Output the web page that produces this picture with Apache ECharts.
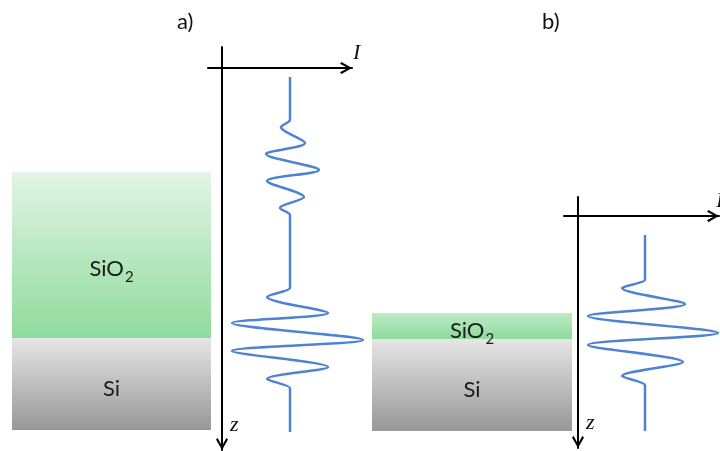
<!DOCTYPE html>
<html>
<head>
<meta charset="utf-8">
<script src="https://cdn.jsdelivr.net/npm/echarts@6/dist/echarts.min.js"></script>
<style>html,body{margin:0;padding:0;background:#fff}#c{width:720px;height:451px}</style>
</head>
<body>
<div id="c"></div>
<script>
// ---- data ----
const panelTitles = ['a)', 'b)'];
const layerNames = ['SiO2', 'Si'];
// depth of top of the film stack (from the I axis) and layer thicknesses
const stackTopA = 104;
const layerThickA = [166, 92];
const stackTopB = 97;
const layerThickB = [26, 92];
// interference signal a): depth z and intensity I
const waveA_z = [9, 50, 52, 59, 75, 86, 102, 113, 129, 140, 147, 149, 218, 220, 229, 245, 255, 272, 283, 299, 311, 320, 322, 364];
const waveA_I = [68, 68, 68, 59, 83, 44, 97, 45, 82, 58, 68, 68, 68, 68, 45, 106, 10, 141, 10, 106, 45, 68, 68, 68];
// interference signal b)
const waveB_z = [19, 62, 64, 72, 88, 100, 117, 129, 146, 160, 169, 171, 215];
const waveB_I = [67, 67, 67, 44, 107, 10, 140, 10, 105, 44, 67, 67, 67];

const zip = (xs, ys) => xs.map((x, i) => [x, ys[i]]);

const chevron = 'path://M50,0 L100,88 L86,100 L50,34 L14,100 L0,88 Z';
const blue = '#4f82d2';

function gradient(top, bottom) {
  return new echarts.graphic.LinearGradient(0, 0, 0, 1, [
    { offset: 0, color: top }, { offset: 1, color: bottom }
  ]);
}

const labelFont = { fontFamily: 'Lato', fontSize: 22, color: '#1c1c1c' };
const labelRich = { s: { fontFamily: 'Lato', fontSize: 15, color: '#1c1c1c', padding: [16, 0, 0, 1] } };
const fmt = p => p.seriesName.indexOf('SiO2') === 0 ? 'SiO{s|2}' : 'Si';

function layerSeries(gi, top, thick, greenTop) {
  const colors = [gradient(greenTop, '#8edb9c'), gradient('#e6e6e6', '#979797')];
  const out = [{
    type: 'bar', xAxisIndex: gi, yAxisIndex: gi, stack: 's' + gi, barWidth: '100%',
    data: [top], itemStyle: { color: 'transparent' }, silent: true
  }];
  thick.forEach((t, i) => {
    out.push({
      name: layerNames[i] + ' ' + gi,
      type: 'bar', xAxisIndex: gi, yAxisIndex: gi, stack: 's' + gi, barWidth: '100%',
      data: [t], itemStyle: { color: colors[i] },
      label: Object.assign({ show: true, position: 'inside', formatter: fmt, rich: labelRich, offset: [0, i === 0 && t > 60 ? 14 : 5] }, labelFont)
    });
  });
  return out;
}

function hiddenAxis(extra) {
  return Object.assign({ show: false }, extra);
}

function signalAxisX(min, max, nameGap) {
  return {
    type: 'value', min: min, max: max, position: 'top',
    name: 'I', nameLocation: 'end', nameGap: nameGap,
    nameTextStyle: { fontFamily: 'Liberation Serif', fontStyle: 'italic', fontSize: 22, color: '#111', verticalAlign: 'bottom', align: 'left', padding: [0, 0, 4, 0] },
    axisLine: { show: true, onZero: true, symbol: ['none', chevron], symbolSize: [14, 12], symbolOffset: [0, -6], lineStyle: { color: '#000', width: 2 } },
    axisTick: { show: false }, axisLabel: { show: false }, splitLine: { show: false }
  };
}
function signalAxisY(min, max) {
  return {
    type: 'value', min: min, max: max, inverse: true,
    name: 'z', nameLocation: 'end', nameGap: -14,
    nameTextStyle: { fontFamily: 'Liberation Serif', fontStyle: 'italic', fontSize: 22, color: '#111', verticalAlign: 'bottom', align: 'left', padding: [0, 0, 0, 8] },
    axisLine: { show: true, onZero: true, symbol: [chevron, 'none'], symbolSize: [14, 12], symbolOffset: [6, 0], lineStyle: { color: '#000', width: 2 } },
    axisTick: { show: false }, axisLabel: { show: false }, splitLine: { show: false }
  };
}

const g = (o) => Object.assign({ outerBoundsMode: 'none', containLabel: false }, o);

const option = {
  animation: false,
  backgroundColor: '#fff',
  title: [
    { text: panelTitles[0], left: 172, top: 6, textStyle: { fontFamily: 'Lato', fontSize: 22, fontWeight: 'normal', color: '#111' } },
    { text: panelTitles[1], left: 537, top: 6, textStyle: { fontFamily: 'Lato', fontSize: 22, fontWeight: 'normal', color: '#111' } }
  ],
  grid: [
    g({ left: 12, width: 199, top: 47, height: 403 }),   // layers a
    g({ left: 208, width: 144, top: 47, height: 403 }),  // axes a
    g({ left: 372, width: 200, top: 197, height: 251 }), // layers b
    g({ left: 564, width: 155, top: 197, height: 251 }), // axes b
    g({ left: 208, width: 170, top: 47, height: 403 }),  // signal a
    g({ left: 564, width: 156, top: 197, height: 251 })  // signal b
  ],
  xAxis: [
    hiddenAxis({ type: 'category', gridIndex: 0, data: ['a'] }),
    Object.assign(signalAxisX(-14, 130, 1), { gridIndex: 1 }),
    hiddenAxis({ type: 'category', gridIndex: 2, data: ['b'] }),
    Object.assign(signalAxisX(-14, 141, -3), { gridIndex: 3 }),
    hiddenAxis({ type: 'value', gridIndex: 4, min: -14, max: 156 }),
    hiddenAxis({ type: 'value', gridIndex: 5, min: -14, max: 142 })
  ],
  yAxis: [
    hiddenAxis({ type: 'value', gridIndex: 0, min: -21, max: 382, inverse: true }),
    Object.assign(signalAxisY(-21, 382), { gridIndex: 1 }),
    hiddenAxis({ type: 'value', gridIndex: 2, min: -19, max: 232, inverse: true }),
    Object.assign(signalAxisY(-19, 232), { gridIndex: 3 }),
    hiddenAxis({ type: 'value', gridIndex: 4, min: -21, max: 382, inverse: true }),
    hiddenAxis({ type: 'value', gridIndex: 5, min: -19, max: 232, inverse: true })
  ],
  series: [].concat(
    layerSeries(0, stackTopA, layerThickA, '#e3f4e6'),
    layerSeries(2, stackTopB, layerThickB, '#bfeac7'),
    [
      { type: 'line', xAxisIndex: 4, yAxisIndex: 4, data: zip(waveA_I, waveA_z), smooth: 0.3, showSymbol: false, clip: false, lineStyle: { color: blue, width: 2.5 } },
      { type: 'line', xAxisIndex: 5, yAxisIndex: 5, data: zip(waveB_I, waveB_z), smooth: 0.3, showSymbol: false, clip: false, lineStyle: { color: blue, width: 2.5 } }
    ]
  )
};

const chart = echarts.init(document.getElementById('c'), null, { renderer: 'canvas' });
chart.setOption(option);
</script>
</body>
</html>
